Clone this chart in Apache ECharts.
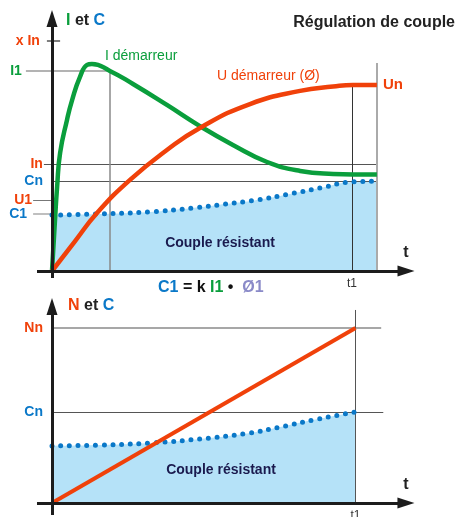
<!DOCTYPE html>
<html><head><meta charset="utf-8">
<script src="https://cdn.jsdelivr.net/npm/echarts@6/dist/echarts.min.js"></script>
<style>html,body{margin:0;padding:0;background:#fff}#c{width:459px;height:517px}</style>
</head><body><div id="c"></div>
<script>
// ---------- DATA ----------
// Top chart: I et C versus t
const topCurrentI = [[0,0],[0.1,22.2],[0.17,36.5],[0.27,51.3],[0.5,65.7],[0.67,74.3],[0.93,84.3],[1.17,89.6],[1.33,90],[1.93,87],[2.7,81.3],[3.83,72.2],[4.93,63],[6.03,54.8],[7.17,47.4],[8.27,43.5],[9.37,42.2],[10.03,42],[10.83,42]];
const topVoltageU = [[0,0],[0.77,13],[1.5,25.2],[2.6,39.6],[3.83,52.6],[4.93,62.2],[6.6,72.6],[8.27,78.3],[9.37,80.2],[10.03,80.9],[10.83,80.9]];
const topTorqueC = [[0,24.3],[1.6,24.8],[3.27,25.7],[4.7,27.4],[5.77,29.1],[6.83,30.9],[7.93,33.5],[8.93,36.1],[10,38.7],[10.83,39.1]];
const topLevelNames = ['x In','I1','In','Cn','U1','C1'];
const topLevelValues = [100, 87, 46.5, 39.1, 30.9, 24.8];
const topUn = 80.9;
const topTI1 = 1.93, topT1 = 10, topTEnd = 10.83;
// Bottom chart: N et C versus t
const botSpeedN = [[0,0],[10.05,100]];
const botTorqueC = [[0,32.6],[1.59,33.1],[3.25,34.3],[4.9,36.6],[6.56,40],[7.55,43.4],[8.64,47.4],[10.05,52]];
const botLevelNames = ['Nn','Cn'];
const botLevelValues = [100, 52];
const botT1 = 10.05;

// ---------- STYLE ----------
const FONT = "'Liberation Sans', Arial, Helvetica, sans-serif";
const GREEN = '#0a9e3c', RED = '#f0410a', BLUE = '#0a78c8', FILL = '#b5e2f8', NAVY = '#1a1a4e', LAV = '#8a8ac8', AX = '#1c1c1c';

function seg(x0, y0, x1, y1, color, width, label) {
  return [
    {coord: [x0, y0], lineStyle: {color: color, width: width, type: 'solid'},
     label: label || {show: false}},
    {coord: [x1, y1]}
  ];
}
function lvlLabel(text, color, dist) {
  return {show: true, position: 'start', formatter: text, color: color, fontWeight: 'bold',
          fontSize: 14, fontFamily: FONT, distance: dist};
}
function t1Label() {
  return {show: true, position: 'start', formatter: 't1', color: '#333', fontSize: 12,
          fontFamily: FONT, distance: 7};
}
const mlBase = {silent: true, symbol: ['none', 'none'], animation: false, label: {show: false}};

const topRefs = [
  seg(-0.17, topLevelValues[0], 0.27, topLevelValues[0], '#555', 1.5, lvlLabel(topLevelNames[0], RED, 7)),
  seg(-0.87, topLevelValues[1], topTI1, topLevelValues[1], '#9a9a9a', 1.5, lvlLabel(topLevelNames[1], GREEN, 4)),
  seg(-0.27, topLevelValues[2], topTEnd, topLevelValues[2], '#555', 1, lvlLabel(topLevelNames[2], RED, 1)),
  seg(0, topLevelValues[3], topTEnd, topLevelValues[3], '#555', 1, lvlLabel(topLevelNames[3], BLUE, 9)),
  seg(-0.63, topLevelValues[4], 0, topLevelValues[4], '#777', 1, lvlLabel(topLevelNames[4], RED, 1)),
  seg(-0.63, topLevelValues[5], 0, topLevelValues[5], '#aaa', 1.5, lvlLabel(topLevelNames[5], BLUE, 6)),
  seg(topTI1, 0, topTI1, topLevelValues[1], '#8a8a8a', 1.5),
  seg(topT1, 0, topT1, topUn, '#333', 1, t1Label()),
  seg(topTEnd, 0, topTEnd, 90.4, '#aaa', 2)
];
const botRefs = [
  seg(0, botLevelValues[0], 10.9, botLevelValues[0], '#8a8a8a', 1.5, lvlLabel(botLevelNames[0], RED, 9)),
  seg(0, botLevelValues[1], 10.97, botLevelValues[1], '#555', 1, lvlLabel(botLevelNames[1], BLUE, 9)),
  seg(botT1, 0, botT1, 110.3, '#555', 1, t1Label())
];
function axesML(xEnd, yMin, yEnd, xMin) {
  return {
    silent: true, animation: false, z: 6, symbol: ['none', 'triangle'], symbolSize: [11, 17],
    label: {show: false},
    lineStyle: {color: AX, width: 3, type: 'solid'},
    itemStyle: {color: AX},
    data: [
      [{coord: [xMin, 0]}, {coord: [xEnd, 0]}],
      [{coord: [0, yMin]}, {coord: [0, yEnd]}]
    ]
  };
}

const option = {
  animation: false,
  textStyle: {fontFamily: FONT},
  grid: [
    {left: 0, top: 0, width: 459, height: 290},
    {left: 0, top: 290, width: 459, height: 227}
  ],
  xAxis: [
    {type: 'value', gridIndex: 0, min: -52/30, max: 407/30, show: false},
    {type: 'value', gridIndex: 1, min: -52/30.2, max: 407/30.2, show: false}
  ],
  yAxis: [
    {type: 'value', gridIndex: 0, min: -19/2.3, max: 271/2.3, show: false},
    {type: 'value', gridIndex: 1, min: -8, max: 213/1.75, show: false}
  ],
  series: [
    // top chart
    {type: 'line', xAxisIndex: 0, yAxisIndex: 0, data: topTorqueC, smooth: 0.5, smoothMonotone: 'none', showSymbol: false, z: 1,
     lineStyle: {width: 0, opacity: 0}, areaStyle: {color: FILL, opacity: 1}},
    {type: 'line', xAxisIndex: 0, yAxisIndex: 0, data: [], z: 2,
     markLine: Object.assign({}, mlBase, {z: 2, data: topRefs})},
    {type: 'line', xAxisIndex: 0, yAxisIndex: 0, data: topTorqueC, smooth: 0.5, smoothMonotone: 'none', showSymbol: false, z: 3,
     lineStyle: {color: BLUE, width: 5, type: [0, 8.7], cap: 'round'}},
    {type: 'line', xAxisIndex: 0, yAxisIndex: 0, data: topCurrentI, smooth: 0.5, smoothMonotone: 'none', showSymbol: false, z: 4,
     lineStyle: {color: GREEN, width: 4.5}},
    {type: 'line', xAxisIndex: 0, yAxisIndex: 0, data: topVoltageU, smooth: 0.5, smoothMonotone: 'none', showSymbol: false, z: 5,
     lineStyle: {color: RED, width: 4.5},
     endLabel: {show: true, formatter: 'Un', color: RED, fontWeight: 'bold', fontSize: 15, fontFamily: FONT, distance: 6}},
    {type: 'line', xAxisIndex: 0, yAxisIndex: 0, data: [], z: 6,
     markLine: axesML(11.8, -3.04, 109.8, -0.5)},
    // bottom chart
    {type: 'line', xAxisIndex: 1, yAxisIndex: 1, data: botTorqueC, smooth: 0.5, smoothMonotone: 'none', showSymbol: false, z: 1,
     lineStyle: {width: 0, opacity: 0}, areaStyle: {color: FILL, opacity: 1}},
    {type: 'line', xAxisIndex: 1, yAxisIndex: 1, data: [], z: 2,
     markLine: Object.assign({}, mlBase, {z: 2, data: botRefs})},
    {type: 'line', xAxisIndex: 1, yAxisIndex: 1, data: botTorqueC, smooth: 0.5, smoothMonotone: 'none', showSymbol: false, z: 3,
     lineStyle: {color: BLUE, width: 5, type: [0, 8.7], cap: 'round'}},
    {type: 'line', xAxisIndex: 1, yAxisIndex: 1, data: botSpeedN, showSymbol: false, z: 5,
     lineStyle: {color: RED, width: 4}},
    {type: 'line', xAxisIndex: 1, yAxisIndex: 1, data: [], z: 6,
     markLine: axesML(11.72, -6.86, 112.3, -0.497)}
  ],
  graphic: [
    {type: 'text', x: 455, y: 23, z: 10, style: {text: 'Régulation de couple', fill: '#222', fontSize: 16, fontWeight: 'bold', fontFamily: FONT, textAlign: 'right', align: 'right', textVerticalAlign: 'middle', verticalAlign: 'middle'}},
    {type: 'text', x: 66, y: 21, z: 10, style: {text: '{g|I} {k|et} {b|C}', fontSize: 16, fontWeight: 'bold', fontFamily: FONT, textVerticalAlign: 'middle', verticalAlign: 'middle',
      rich: {g: {fill: GREEN, fontSize: 16, fontWeight: 'bold', fontFamily: FONT}, k: {fill: '#222', fontSize: 16, fontWeight: 'bold', fontFamily: FONT}, b: {fill: BLUE, fontSize: 16, fontWeight: 'bold', fontFamily: FONT}}}},
    {type: 'text', x: 105, y: 56, z: 10, style: {text: 'I démarreur', fill: GREEN, fontSize: 14, fontFamily: FONT, textVerticalAlign: 'middle', verticalAlign: 'middle'}},
    {type: 'text', x: 217, y: 76, z: 10, style: {text: 'U démarreur (Ø)', fill: RED, fontSize: 14, fontFamily: FONT, textVerticalAlign: 'middle', verticalAlign: 'middle'}},
    {type: 'text', x: 406, y: 253, z: 10, style: {text: 't', fill: '#222', fontSize: 16, fontWeight: 'bold', fontFamily: FONT, textAlign: 'center', align: 'center', textVerticalAlign: 'middle', verticalAlign: 'middle'}},
    {type: 'text', x: 406, y: 485, z: 10, style: {text: 't', fill: '#222', fontSize: 16, fontWeight: 'bold', fontFamily: FONT, textAlign: 'center', align: 'center', textVerticalAlign: 'middle', verticalAlign: 'middle'}},
    {type: 'text', x: 220, y: 243, z: 10, style: {text: 'Couple résistant', fill: NAVY, fontSize: 14, fontWeight: 'bold', fontFamily: FONT, textAlign: 'center', align: 'center', textVerticalAlign: 'middle', verticalAlign: 'middle'}},
    {type: 'text', x: 221, y: 470, z: 10, style: {text: 'Couple résistant', fill: NAVY, fontSize: 14, fontWeight: 'bold', fontFamily: FONT, textAlign: 'center', align: 'center', textVerticalAlign: 'middle', verticalAlign: 'middle'}},
    {type: 'text', x: 158, y: 288, z: 10, style: {text: '{b|C1} {k|= k} {g|I1} {k|•}  {l|Ø1}', fontSize: 16, fontWeight: 'bold', fontFamily: FONT, textVerticalAlign: 'middle', verticalAlign: 'middle',
      rich: {b: {fill: BLUE, fontSize: 16, fontWeight: 'bold', fontFamily: FONT}, k: {fill: '#111', fontSize: 16, fontWeight: 'bold', fontFamily: FONT}, g: {fill: GREEN, fontSize: 16, fontWeight: 'bold', fontFamily: FONT}, l: {fill: LAV, fontSize: 16, fontWeight: 'bold', fontFamily: FONT}}}},
    {type: 'text', x: 68, y: 306, z: 10, style: {text: '{r|N} {k|et} {b|C}', fontSize: 16, fontWeight: 'bold', fontFamily: FONT, textVerticalAlign: 'middle', verticalAlign: 'middle',
      rich: {r: {fill: RED, fontSize: 16, fontWeight: 'bold', fontFamily: FONT}, k: {fill: '#222', fontSize: 16, fontWeight: 'bold', fontFamily: FONT}, b: {fill: BLUE, fontSize: 16, fontWeight: 'bold', fontFamily: FONT}}}}
  ]
};
const chart = echarts.init(document.getElementById('c'), null, {renderer: 'canvas'});
chart.setOption(option);
</script>
</body></html>
